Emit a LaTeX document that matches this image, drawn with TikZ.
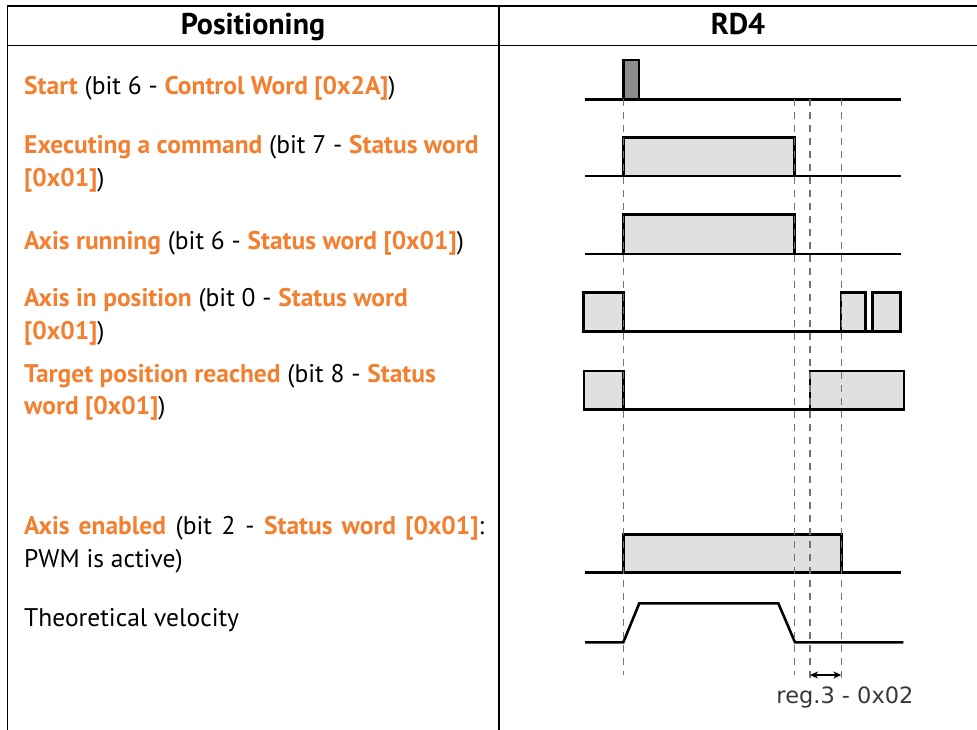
\documentclass[tikz,border=0pt]{standalone}
\usepackage{fontspec}
\setmainfont{PT Sans}
\newfontfamily\labfont{DejaVu Sans}
\usetikzlibrary{arrows.meta}
\definecolor{lorange}{RGB}{242,128,48}
\definecolor{boxgray}{RGB}{224,224,224}
\definecolor{pulsegray}{RGB}{140,140,140}
\newcommand\orn[1]{\textcolor{lorange}{\bfseries #1}}
\begin{document}
\begin{tikzpicture}[x=1pt,y=-1pt,
  frame/.style={line width=1.8pt,black},
  lbl/.style={anchor=base west,inner sep=0pt,font=\fontsize{25.5}{30}\selectfont},
  head/.style={anchor=base,inner sep=0pt,font=\fontsize{30}{34}\selectfont\bfseries},
  sig/.style={line width=2.6pt,black,line join=miter},
  sigbox/.style={sig,fill=boxgray},
  vdashed/.style={line width=1.1pt,black!55,dash pattern=on 7pt off 6pt},
  reglbl/.style={anchor=base,inner sep=0pt,font=\labfont\fontsize{22.5}{26}\selectfont,text=black!78}]
\useasboundingbox (0,0) rectangle (977,730);
% table frame
\draw[frame] (7,6) -- (977,6);
\draw[frame] (7,45.5) -- (977,45.5);
\draw[frame] (7.5,5.1) -- (7.5,730);
\draw[frame] (499,5.1) -- (499,730);
% headers
\node[head] (hpos) at (253,34.5) {Positioning};
\node[head] (hrd) at (738,34.5) {RD4};
% left column texts
\node[lbl] (t1) at (24,95) {\orn{Start} (bit 6 - \orn{Control Word [0x2A]})};
\node[lbl] (t2a) at (24,154) {\orn{Executing a command} (bit 7 - \orn{Status word}};
\node[lbl] (t2b) at (24,187) {\orn{[0x01]})};
\node[lbl] (t3) at (24,249) {\orn{Axis running} (bit 6 - \orn{Status word [0x01]})};
\node[lbl] (t4a) at (24,306) {\orn{Axis in position} (bit 0 - \orn{Status word}};
\node[lbl] (t4b) at (24,339) {\orn{[0x01]})};
\node[lbl] (t5a) at (24,382) {\orn{Target position reached} (bit 8 - \orn{Status}};
\node[lbl] (t5b) at (24,414) {\orn{word [0x01]})};
\node[lbl] (t6a) at (24,534) {\makebox[460pt][s]{\orn{Axis enabled} (bit 2 - \orn{Status word [0x01]}:}};
\node[lbl] (t6b) at (24,567) {PWM is active)};
\node[lbl] (t7) at (24,626) {Theoretical velocity};
% signals
% start
\draw[sig,fill=pulsegray] (623.3,99.3) -- (623.3,60) -- (639,60) -- (639,99.3);
\draw[sig] (585,99.3) -- (900.7,99.3);
% executing
\draw[sigbox] (623.3,176) rectangle (794.3,137.3);
\draw[sig] (585,176) -- (900.7,176);
% axis running
\draw[sigbox] (623.3,254) rectangle (794.3,214.3);
\draw[sig] (585,254) -- (900.7,254);
% axis in position
\draw[sigbox] (583.5,331.7) rectangle (623.3,292.7);
\draw[sigbox] (841,331.7) rectangle (865.3,292.7);
\draw[sigbox] (872.7,331.7) rectangle (900.7,292.7);
\draw[sig] (623.3,331.7) -- (841,331.7);
\draw[sig] (865.3,331.7) -- (872.7,331.7);
% target position reached
\draw[sigbox] (584,409.3) rectangle (623.3,371);
\draw[sigbox] (810,409.3) rectangle (904,371);
\draw[sig] (623.3,409.3) -- (810,409.3);
% axis enabled
\draw[sigbox] (623.3,572.7) rectangle (841.7,534.3);
\draw[sig] (585,572.7) -- (900.7,572.7);
% velocity
\draw[sig] (585,642.3) -- (623.3,642.3) -- (639.3,603.3) -- (778.3,603.3) -- (795,642.3) -- (903.3,642.3);
% dashed markers
\coordinate (d1t) at (623.3,99.3); \coordinate (d1b) at (623.3,675);
\coordinate (d2t) at (794.3,99.3); \coordinate (d2b) at (794.3,675);
\coordinate (d3t) at (810,99.3); \coordinate (d3b) at (810,678);
\coordinate (d4t) at (841.3,99.3); \coordinate (d4b) at (841.3,678);
\draw[vdashed] (d1t) -- (d1b);
\draw[vdashed] (d2t) -- (d2b);
\draw[vdashed] (d3t) -- (d3b);
\draw[vdashed] (d4t) -- (d4b);
\coordinate (al) at (810,675); \coordinate (ar) at (841.3,675);
\draw[line width=1.6pt,{Stealth[length=8pt,width=7pt]}-{Stealth[length=8pt,width=7pt]}] (al) -- (ar);
\node[reglbl] (reg) at (845,703) {reg.3 - 0x02};
\end{tikzpicture}
\end{document}
